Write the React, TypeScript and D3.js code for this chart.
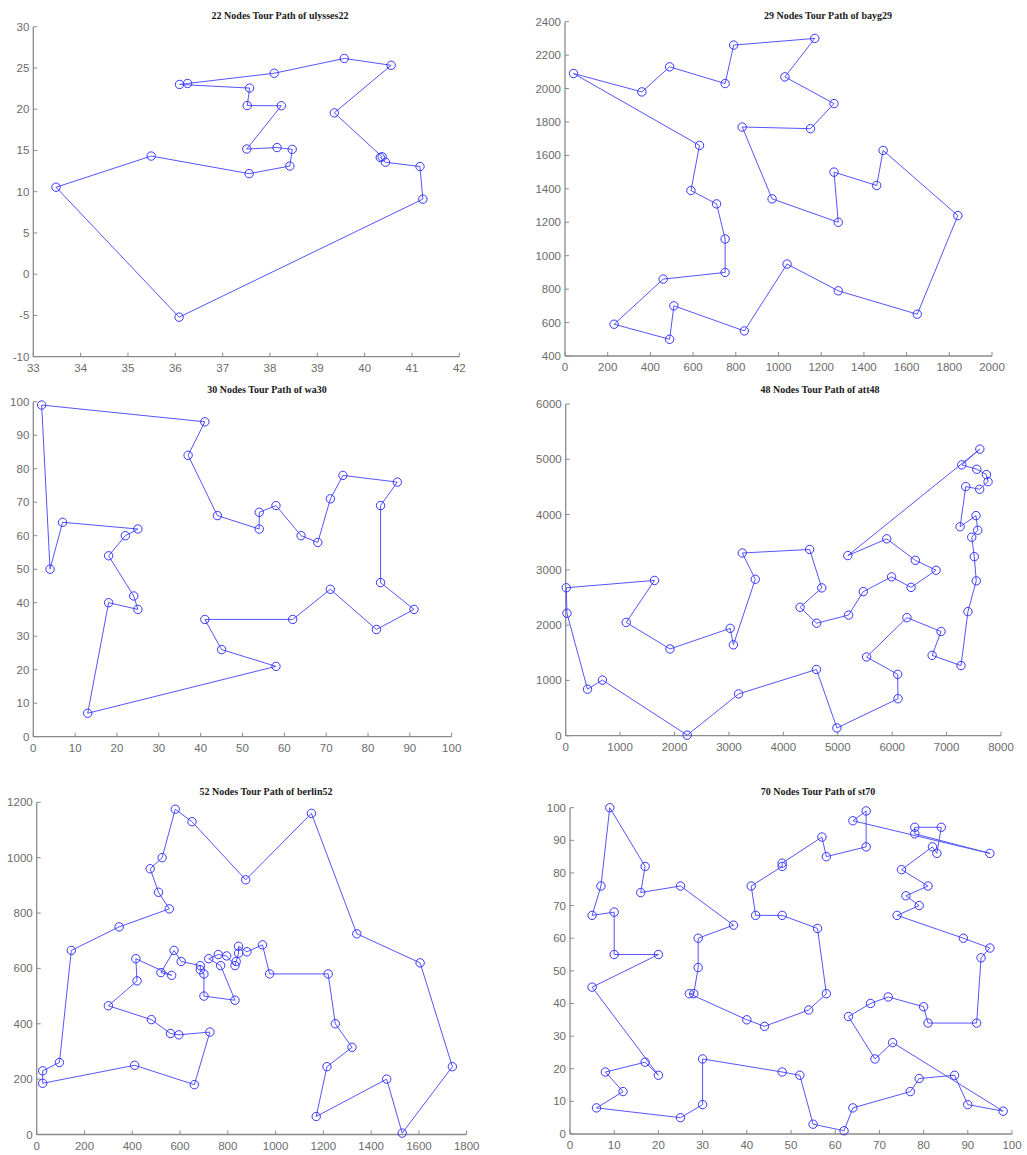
import React from "react";
import * as d3 from "d3";

type Pt = [number, number];

// tours in visiting order (x, y)
const ulysses22Tour: Pt[] = [
  [38.24, 20.42], [37.51, 15.17], [38.15, 15.35], [38.47, 15.13], [38.42, 13.11],
  [37.56, 12.19], [35.49, 14.32], [33.48, 10.54], [36.08, -5.21], [41.23, 9.1],
  [41.17, 13.05], [40.44, 13.57], [40.33, 14.15], [40.37, 14.23], [39.36, 19.56],
  [40.56, 25.32], [39.57, 26.15], [38.09, 24.36], [36.26, 23.12], [36.09, 23.0],
  [37.57, 22.56], [37.52, 20.44],
];

const bayg29Tour: Pt[] = [
  [1150, 1760], [1260, 1910], [1030, 2070], [1170, 2300], [790, 2260],
  [750, 2030], [490, 2130], [360, 1980], [40, 2090], [630, 1660],
  [590, 1390], [710, 1310], [750, 1100], [750, 900], [460, 860],
  [230, 590], [490, 500], [510, 700], [840, 550], [1040, 950],
  [1280, 790], [1650, 650], [1840, 1240], [1490, 1630], [1460, 1420],
  [1260, 1500], [1280, 1200], [970, 1340], [830, 1770],
];

const wa30Tour: Pt[] = [
  [2, 99], [41, 94], [37, 84], [44, 66], [54, 62], [54, 67], [58, 69], [64, 60],
  [68, 58], [71, 71], [74, 78], [87, 76], [83, 69], [83, 46], [91, 38], [82, 32],
  [71, 44], [62, 35], [41, 35], [45, 26], [58, 21], [13, 7], [18, 40], [25, 38],
  [24, 42], [18, 54], [22, 60], [25, 62], [7, 64], [4, 50],
];

const att48Tour: Pt[] = [
  [10, 2676], [1633, 2809], [1112, 2049], [1916, 1569], [3023, 1942], [3082, 1644],
  [3484, 2829], [3245, 3305], [4483, 3369], [4706, 2674], [4307, 2322], [4612, 2035],
  [5199, 2182], [5468, 2606], [5989, 2873], [6347, 2683], [6807, 2993], [6426, 3173],
  [5900, 3561], [5185, 3258], [7611, 5184], [7280, 4899], [7555, 4819], [7732, 4723],
  [7762, 4595], [7608, 4458], [7352, 4506], [7248, 3779], [7541, 3981], [7573, 3716],
  [7462, 3590], [7509, 3239], [7545, 2801], [7392, 2244], [7265, 1268], [6734, 1453],
  [6898, 1885], [6271, 2135], [5530, 1424], [6101, 1110], [6107, 669], [4985, 140],
  [4608, 1198], [3177, 756], [2233, 10], [675, 1006], [401, 841], [23, 2216],
];

const berlin52Tour: Pt[] = [
  [975, 580], [1220, 580], [1250, 400], [1320, 315], [1215, 245], [1170, 65],
  [1465, 200], [1530, 5], [1740, 245], [1605, 620], [1340, 725], [1150, 1160],
  [875, 920], [650, 1130], [580, 1175], [525, 1000], [475, 960], [510, 875],
  [555, 815], [345, 750], [145, 665], [95, 260], [25, 230], [25, 185],
  [410, 250], [660, 180], [725, 370], [595, 360], [560, 365], [480, 415],
  [300, 465], [420, 555], [415, 635], [565, 575], [520, 585], [575, 665],
  [605, 625], [685, 610], [685, 595], [700, 580], [700, 500], [830, 485],
  [770, 610], [720, 635], [760, 650], [795, 645], [830, 610], [835, 625],
  [845, 655], [845, 680], [880, 660], [945, 685],
];

const st70Tour: Pt[] = [
  [9, 100], [17, 82], [16, 74], [25, 76], [37, 64], [29, 60], [29, 51], [28, 43],
  [27, 43], [40, 35], [44, 33], [54, 38], [58, 43], [56, 63], [48, 67], [42, 67],
  [41, 76], [48, 82], [48, 83], [57, 91], [58, 85], [67, 88], [67, 99], [64, 96],
  [95, 86], [78, 92], [78, 94], [84, 94], [83, 86], [82, 88], [75, 81], [81, 76],
  [76, 73], [79, 70], [74, 67], [89, 60], [95, 57], [93, 54], [92, 34], [81, 34],
  [80, 39], [72, 42], [68, 40], [63, 36], [69, 23], [73, 28], [98, 7], [90, 9],
  [87, 18], [79, 17], [77, 13], [64, 8], [62, 1], [55, 3], [52, 18], [48, 19],
  [30, 23], [30, 9], [25, 5], [6, 8], [12, 13], [8, 19], [17, 22], [20, 18],
  [5, 45], [20, 55], [10, 55], [10, 68], [5, 67], [7, 76],
];

const panels = [
  {
    title: "22 Nodes Tour Path of ulysses22", tour: ulysses22Tour,
    xDomain: [33, 42], yDomain: [-10, 30], xTickCount: 10, yTickCount: 8,
    box: { left: 33.3, right: 459.3, top: 26.7, bottom: 356.7 }, titleX: 280, titleY: 18.5,
  },
  {
    title: "29 Nodes Tour Path of bayg29", tour: bayg29Tour,
    xDomain: [0, 2000], yDomain: [400, 2400], xTickCount: 10, yTickCount: 10,
    box: { left: 565, right: 992, top: 21.7, bottom: 356 }, titleX: 828, titleY: 18.5,
  },
  {
    title: "30 Nodes Tour Path of wa30", tour: wa30Tour,
    xDomain: [0, 100], yDomain: [0, 100], xTickCount: 10, yTickCount: 10,
    box: { left: 33.3, right: 451.7, top: 401.7, bottom: 736.7 }, titleX: 267, titleY: 392.5,
  },
  {
    title: "48 Nodes Tour Path of att48", tour: att48Tour,
    xDomain: [0, 8000], yDomain: [0, 6000], xTickCount: 8, yTickCount: 6,
    box: { left: 565.7, right: 1001, top: 404, bottom: 735.7 }, titleX: 820, titleY: 392.5,
  },
  {
    title: "52 Nodes Tour Path of berlin52", tour: berlin52Tour,
    xDomain: [0, 1800], yDomain: [0, 1200], xTickCount: 9, yTickCount: 6,
    box: { left: 36.7, right: 466.7, top: 802.3, bottom: 1134.5 }, titleX: 266, titleY: 795,
  },
  {
    title: "70 Nodes Tour Path of st70", tour: st70Tour,
    xDomain: [0, 100], yDomain: [0, 100], xTickCount: 10, yTickCount: 10,
    box: { left: 570, right: 1012, top: 807.7, bottom: 1134 }, titleX: 818, titleY: 795,
  },
];

const axisColor = "#8a8a8a";
const labelColor = "#6b6b6b";
const pathColor = "#5555ff";
const markerColor = "#3535ff";

const TourPanel = ({ p }: { p: (typeof panels)[number] }) => {
  const { box } = p;
  const x = d3.scaleLinear().domain(p.xDomain).range([box.left, box.right]);
  const y = d3.scaleLinear().domain(p.yDomain).range([box.bottom, box.top]);
  const line = d3
    .line<Pt>()
    .x((d) => x(d[0]))
    .y((d) => y(d[1]))
    .curve(d3.curveLinearClosed);

  return (
    <g>
      <text
        x={p.titleX}
        y={p.titleY}
        textAnchor="middle"
        fontFamily="'Liberation Serif', 'Times New Roman', serif"
        fontWeight="bold"
        fontSize={10}
        fill="#1a1a1a"
      >
        {p.title}
      </text>

      {/* axes, MATLAB style: ticks pointing inward */}
      <line x1={box.left} x2={box.right} y1={box.bottom} y2={box.bottom} stroke={axisColor} strokeWidth={1.3} />
      <line x1={box.left} x2={box.left} y1={box.top} y2={box.bottom} stroke={axisColor} strokeWidth={1.3} />
      {x.ticks(p.xTickCount).map((t) => (
        <g key={"x" + t}>
          <line x1={x(t)} x2={x(t)} y1={box.bottom} y2={box.bottom - 4} stroke={axisColor} />
          <text
            x={x(t)}
            y={box.bottom + 15}
            textAnchor="middle"
            fontFamily="'Liberation Sans', Arial, sans-serif"
            fontSize={11.5}
            fill={labelColor}
          >
            {t}
          </text>
        </g>
      ))}
      {y.ticks(p.yTickCount).map((t) => (
        <g key={"y" + t}>
          <line x1={box.left} x2={box.left + 4} y1={y(t)} y2={y(t)} stroke={axisColor} />
          <text
            x={box.left - 4}
            y={y(t) + 4}
            textAnchor="end"
            fontFamily="'Liberation Sans', Arial, sans-serif"
            fontSize={11.5}
            fill={labelColor}
          >
            {t}
          </text>
        </g>
      ))}

      <path d={line(p.tour) ?? ""} fill="none" stroke={pathColor} strokeWidth={1} />
      {p.tour.map((d, i) => (
        <circle key={i} cx={x(d[0])} cy={y(d[1])} r={4.2} fill="none" stroke={markerColor} strokeWidth={1} />
      ))}
    </g>
  );
};

export default function App() {
  return (
    <svg
      width={1027}
      height={1155}
      style={{ position: "absolute", left: 0, top: 0, background: "#fff" }}
    >
      {panels.map((p) => (
        <TourPanel key={p.title} p={p} />
      ))}
    </svg>
  );
}
